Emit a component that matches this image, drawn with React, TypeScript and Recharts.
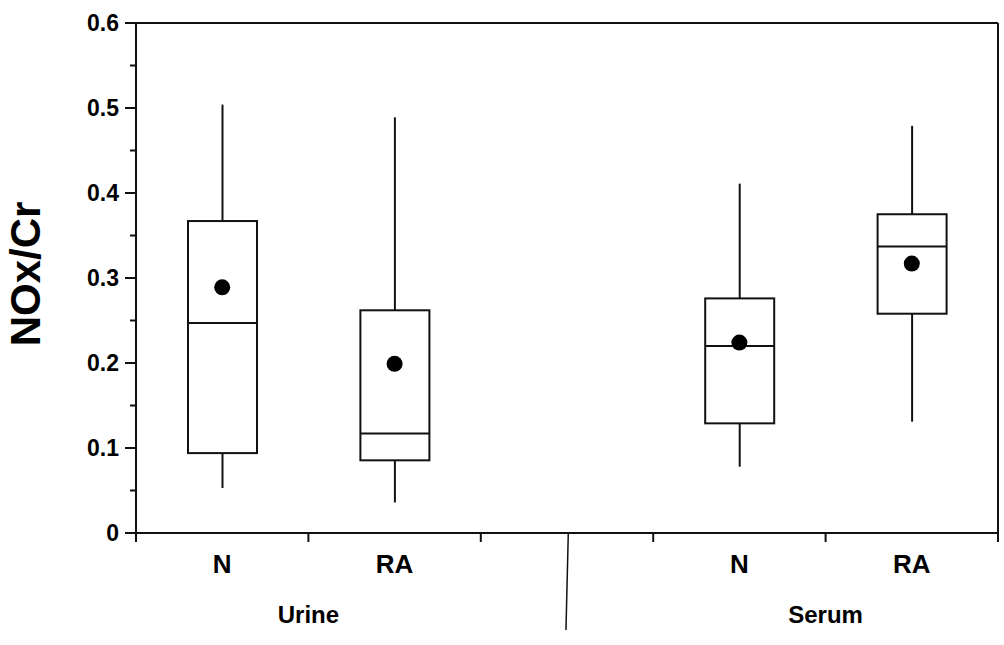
import { Bar, ComposedChart, ReferenceLine, Scatter, XAxis, YAxis, Label } from "recharts";

const INK = "#111";
const FONT = "'Liberation Sans', Arial, Helvetica, sans-serif";

// box plot stats
const POSITIONS = [0.5, 1.5, 3.5, 4.5];
const GROUPS = ["N", "RA", "N", "RA"];
const WHISKER_LOW = [0.053, 0.036, 0.078, 0.131];
const Q1 = [0.094, 0.0855, 0.129, 0.258];
const MEDIAN = [0.247, 0.117, 0.22, 0.337];
const Q3 = [0.367, 0.262, 0.276, 0.375];
const WHISKER_HIGH = [0.504, 0.489, 0.411, 0.479];
const MEAN = [0.289, 0.199, 0.224, 0.317];

const Y_TICKS = [0, 0.05, 0.1, 0.15, 0.2, 0.25, 0.3, 0.35, 0.4, 0.45, 0.5, 0.55, 0.6];
const X_TICKS = [0, 0.5, 1, 1.5, 2, 2.5, 3, 3.5, 4, 4.5, 5];
const SAMPLE_LABELS = [{ at: 1, label: "Urine" }, { at: 4, label: "Serum" }];
const DIVIDER = [{ x: 2.5075, y: 0 }, { x: 2.494, y: -0.114 }];

const data = POSITIONS.map((pos, i) => ({
  pos,
  name: GROUPS[i],
  range: [WHISKER_LOW[i], WHISKER_HIGH[i]],
  lo: WHISKER_LOW[i],
  q1: Q1[i],
  med: MEDIAN[i],
  q3: Q3[i],
  hi: WHISKER_HIGH[i],
  mean: MEAN[i],
}));

function BoxShape(props: any) {
  const { x, y, width, height, payload } = props;
  const { lo, q1, med, q3, hi } = payload;
  const py = (v: number) => y + ((hi - v) / (hi - lo)) * height;
  const cx = x + width / 2;
  return (
    <g stroke={INK} strokeWidth={2} fill="none">
      <line x1={cx} x2={cx} y1={py(hi)} y2={py(q3)} />
      <line x1={cx} x2={cx} y1={py(q1)} y2={py(lo)} />
      <rect x={x} y={py(q3)} width={width} height={py(q1) - py(q3)} fill="#fff" />
      <line x1={x} x2={x + width} y1={py(med)} y2={py(med)} />
    </g>
  );
}

function MeanDot(props: any) {
  return <circle cx={props.cx} cy={props.cy} r={8} fill="#000" />;
}

function YTick(props: any) {
  const { x, y, payload } = props;
  const v = payload.value as number;
  const major = Math.round(v * 100) % 10 === 0;
  return (
    <g>
      <line x1={major ? x + 6 : x + 11} x2={x + 17} y1={y} y2={y} stroke={INK} strokeWidth={2} />
      {major && (
        <text x={x} y={y + 8} textAnchor="end" fontFamily={FONT} fontWeight="bold" fontSize={23} fill="#000">
          {v === 0 ? "0" : v.toFixed(1)}
        </text>
      )}
    </g>
  );
}

function XTick(props: any) {
  const { x, y, payload } = props;
  const v = payload.value as number;
  if (Number.isInteger(v)) {
    const grp = SAMPLE_LABELS.find((g) => g.at === v);
    return (
      <g>
        <line x1={x} x2={x} y1={y - 9} y2={y} stroke={INK} strokeWidth={2} />
        {grp && (
          <text x={x} y={y + 81} textAnchor="middle" fontFamily={FONT} fontWeight="bold" fontSize={24} fill="#000">
            {grp.label}
          </text>
        )}
      </g>
    );
  }
  const idx = POSITIONS.indexOf(v);
  if (idx < 0) return null;
  return (
    <text x={x} y={y + 31} textAnchor="middle" fontFamily={FONT} fontWeight="bold" fontSize={26} fill="#000">
      {GROUPS[idx]}
    </text>
  );
}

function YTitle(props: any) {
  const { viewBox } = props;
  const cx = 40;
  const cy = viewBox.y + viewBox.height / 2 - 4;
  return (
    <text x={cx} y={cy} transform={`rotate(-90, ${cx}, ${cy})`} textAnchor="middle" fontFamily={FONT} fontWeight="bold" fontSize={42} fill="#000">
      NOx/Cr
    </text>
  );
}

export default function App() {
  return (
    <div style={{ position: "absolute", left: 0, top: 0, width: 1004, height: 645, background: "#fff" }}>
      <ComposedChart width={1004} height={645} data={data} margin={{ top: 23, right: 6, left: 0, bottom: 0 }}>
        <XAxis
          dataKey="pos"
          type="number"
          domain={[0, 5]}
          ticks={X_TICKS}
          interval={0}
          tickSize={9}
          tickMargin={0}
          tickLine={false}
          tick={<XTick />}
          axisLine={{ stroke: INK, strokeWidth: 2 }}
          height={112}
        />
        <YAxis
          type="number"
          domain={[0, 0.6]}
          ticks={Y_TICKS}
          interval={0}
          width={136}
          tickSize={11}
          tickMargin={6}
          tickLine={false}
          tick={<YTick />}
          axisLine={{ stroke: INK, strokeWidth: 2 }}
        >
          <Label content={<YTitle />} />
        </YAxis>
        <ReferenceLine y={0.6} stroke={INK} strokeWidth={2} />
        <ReferenceLine x={5} stroke={INK} strokeWidth={2} />
        <ReferenceLine segment={DIVIDER} stroke={INK} strokeWidth={1.5} ifOverflow="visible" />
        <Bar dataKey="range" barSize={69} shape={<BoxShape />} isAnimationActive={false} />
        <Scatter dataKey="mean" shape={<MeanDot />} isAnimationActive={false} />
      </ComposedChart>
    </div>
  );
}
